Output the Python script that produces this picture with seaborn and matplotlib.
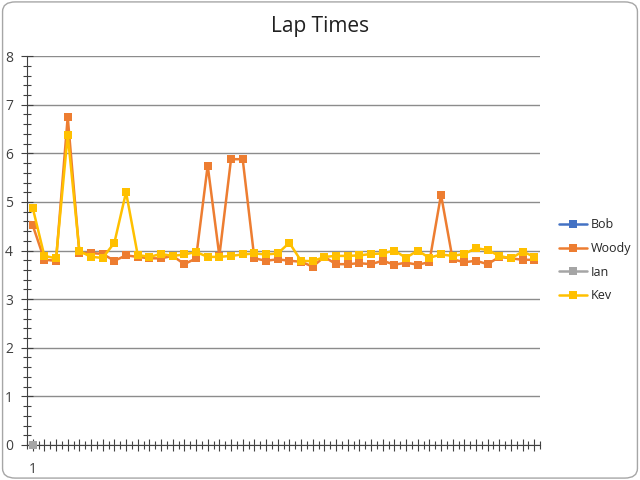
import numpy as np
import pandas as pd
import matplotlib
matplotlib.use("Agg")
import matplotlib.pyplot as plt
from matplotlib.patches import FancyBboxPatch
from matplotlib.ticker import MultipleLocator
import seaborn as sns

# === Data ===
laps = list(range(1, 45))
woody = [4.52, 3.81, 3.79, 6.75, 3.95, 3.95, 3.93, 3.79, 3.90, 3.87,
         3.84, 3.84, 3.89, 3.72, 3.84, 5.75, 3.89, 5.88, 5.88, 3.84,
         3.79, 3.82, 3.79, 3.77, 3.67, 3.87, 3.72, 3.72, 3.74, 3.72,
         3.79, 3.71, 3.75, 3.71, 3.76, 5.15, 3.82, 3.76, 3.79, 3.72,
         3.87, 3.84, 3.81, 3.81]
kev = [4.88, 3.89, 3.84, 6.38, 3.99, 3.87, 3.85, 4.16, 5.20, 3.91,
       3.87, 3.93, 3.89, 3.92, 3.97, 3.87, 3.87, 3.89, 3.92, 3.94,
       3.92, 3.94, 4.16, 3.79, 3.78, 3.87, 3.89, 3.89, 3.90, 3.93,
       3.94, 4.00, 3.85, 4.00, 3.85, 3.92, 3.89, 3.93, 4.05, 4.01,
       3.89, 3.84, 3.98, 3.87]
bob = [0.0]
ian = [0.0]

series = ["Bob", "Woody", "Ian", "Kev"]
colors = ["#4472C4", "#ED7D31", "#A5A5A5", "#FFC000"]

frames = []
for name, vals in zip(series, [bob, woody, ian, kev]):
    frames.append(pd.DataFrame({"Lap": laps[:len(vals)], "Time": vals, "Rider": name}))
df = pd.concat(frames, ignore_index=True)

# === Plot ===
sns.set_style("white")
plt.rcParams["font.family"] = ["Open Sans", "DejaVu Sans"]

fig = plt.figure(figsize=(6.4, 4.8), dpi=100)
ax = fig.add_axes([0.042, 0.073, 0.802, 0.81])

# outer rounded frame like the Excel chart area
fig.patches.append(FancyBboxPatch((0.004, 0.004), 0.992, 0.992, boxstyle="round,pad=0,rounding_size=0.02",
                                  transform=fig.transFigure, fill=False, edgecolor="#a6a6a6", linewidth=1))

for name, col in zip(series, colors):
    d = df[df["Rider"] == name]
    sns.lineplot(data=d, x="Lap", y="Time", color=col, marker="s", markersize=6,
                 markeredgewidth=0, linewidth=1.8, ax=ax, label=name, zorder=3,
                 clip_on=False)

n = len(laps)
ax.set_xlim(0.5, n + 0.5)
ax.set_ylim(0, 8)
ax.yaxis.set_major_locator(MultipleLocator(1))
ax.yaxis.set_minor_locator(MultipleLocator(0.2))
ax.set_xticks(np.arange(0.5, n + 1, 1))
ax.set_xticks(laps, minor=True)
ax.set_xticklabels([])
ax.text(1, -0.35, "1", ha="center", va="top", fontsize=10, color="#404040")

ax.grid(axis="y", which="major", color="#8c8c8c", linewidth=1)
ax.set_axisbelow(True)
ax.tick_params(axis="both", which="both", direction="inout", color="#404040",
               labelcolor="#404040", bottom=True, left=True, width=0.8)
ax.tick_params(axis="y", which="major", length=8, labelsize=10, pad=6)
ax.tick_params(axis="y", which="minor", length=6)
ax.tick_params(axis="x", which="major", length=6)
ax.tick_params(axis="x", which="minor", length=8)
for s in ["top", "right"]:
    ax.spines[s].set_visible(False)
ax.spines["left"].set_color("#404040")
ax.spines["bottom"].set_color("#404040")
ax.set_xlabel("")
ax.set_ylabel("")

fig.text(0.5, 0.945, "Lap Times", ha="center", va="center", fontsize=15, color="#202020")

ax.legend(loc="center left", bbox_to_anchor=(1.015, 0.475), frameon=False, fontsize=9,
          handlelength=2.2, labelspacing=0.85, handletextpad=0.3)

fig.savefig("out.png", dpi=100)
